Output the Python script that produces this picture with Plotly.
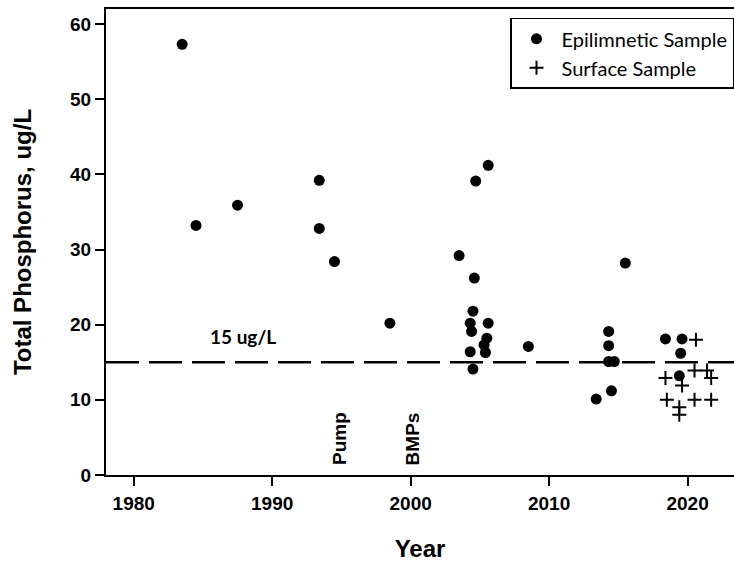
import plotly.graph_objects as go

# Epilimnetic samples (year, total phosphorus ug/L)
epi_year = [1983.5, 1984.5, 1987.5, 1993.4, 1993.4, 1994.5, 1998.5,
            2003.5, 2004.7, 2005.6, 2004.6, 2004.5, 2004.3, 2004.4, 2005.6,
            2005.5, 2005.3, 2005.4, 2004.3, 2004.5, 2008.5,
            2013.4, 2014.3, 2014.3, 2014.3, 2014.7, 2014.5, 2015.5,
            2018.4, 2019.6, 2019.5, 2019.4]
epi_tp = [57.3, 33.2, 35.9, 39.2, 32.8, 28.4, 20.2,
          29.2, 39.1, 41.2, 26.2, 21.8, 20.2, 19.1, 20.2,
          18.2, 17.3, 16.3, 16.4, 14.1, 17.1,
          10.1, 19.1, 17.2, 15.1, 15.1, 11.2, 28.2,
          18.1, 18.1, 16.2, 13.2]

# Surface samples
surf_year = [2020.6, 2018.4, 2019.6, 2020.5, 2021.4, 2021.7,
             2018.5, 2019.4, 2019.4, 2020.5, 2021.7]
surf_tp = [18.0, 12.9, 11.9, 13.9, 13.9, 12.9,
           10.0, 9.0, 8.0, 10.0, 10.0]

threshold = 15
x_ticks = [1980, 1990, 2000, 2010, 2020]
y_ticks = [0, 10, 20, 30, 40, 50, 60]
events = [("Pump", 1994.9), ("BMPs", 2000.2)]

AX_FONT = "Liberation Sans, Arial, sans-serif"
CAL_FONT = "Lato, Carlito, sans-serif"

fig = go.Figure()
fig.add_trace(go.Scatter(
    x=epi_year, y=epi_tp, mode="markers", name="Epilimnetic Sample",
    marker=dict(symbol="circle", size=11, color="black", line=dict(width=0)),
))
fig.add_trace(go.Scatter(
    x=surf_year, y=surf_tp, mode="markers", name="Surface Sample",
    marker=dict(symbol="cross-thin", size=10, color="black",
                line=dict(width=2, color="black")),
))

fig.add_shape(type="line", xref="x domain", yref="y", x0=0, x1=1,
              y0=threshold, y1=threshold,
              line=dict(color="black", width=2.5, dash="33px,10px"))

fig.add_annotation(x=1987.9, y=18.4, xref="x", yref="y", text="<b>15 ug/L</b>",
                   showarrow=False, font=dict(family=CAL_FONT, size=19, color="black"))
for label, yr in events:
    fig.add_annotation(x=yr, y=1.0, xref="x", yref="y", text="<b>%s</b>" % label,
                       textangle=-90, showarrow=False, yanchor="bottom",
                       font=dict(family=AX_FONT, size=19, color="black"))

fig.update_layout(
    width=734, height=562,
    margin=dict(l=106, r=0, t=9, b=87),
    paper_bgcolor="white", plot_bgcolor="white",
    showlegend=True,
    legend=dict(x=1.0, xanchor="right", y=0.981, yanchor="top",
                bgcolor="white", bordercolor="black", borderwidth=1.5,
                font=dict(family=CAL_FONT, size=20, color="black"),
                itemsizing="trace", itemwidth=40, entrywidth=212,
                tracegroupgap=0),
)
fig.update_xaxes(
    range=[1978, 2023.35], tickvals=x_ticks, ticktext=[str(v) for v in x_ticks],
    showgrid=False, zeroline=False, showline=True, linecolor="black", linewidth=2,
    mirror=True, ticks="outside", ticklen=9, tickwidth=2, tickcolor="black",
    ticklabelstandoff=1,
    tickfont=dict(family=AX_FONT, size=19, color="black", weight="bold"),
    title=dict(text="<b>Year</b>", font=dict(family=AX_FONT, size=24, color="black"),
               standoff=27),
)
fig.update_yaxes(
    range=[0, 62], tickvals=y_ticks,
    showgrid=False, zeroline=False, showline=True, linecolor="black", linewidth=2,
    mirror=False, ticks="outside", ticklen=9, tickwidth=2, tickcolor="black",
    tickfont=dict(family=AX_FONT, size=19, color="black", weight="bold"),
    title=dict(text="<b>Total Phosphorus, ug/L</b>",
               font=dict(family=AX_FONT, size=24, color="black"), standoff=32),
)

fig.write_html("out.html")
